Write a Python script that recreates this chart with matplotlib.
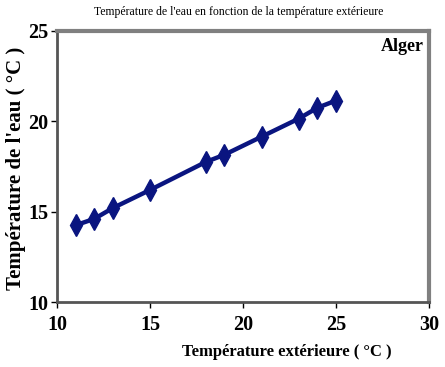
import matplotlib
matplotlib.use("Agg")
import matplotlib.pyplot as plt

x_ext = [11, 12, 13, 15, 18, 19, 21, 23, 24, 25]
y_eau = [14.25, 14.6, 15.2, 16.2, 17.75, 18.15, 19.15, 20.15, 20.75, 21.15]
x_ticks = [10, 15, 20, 25, 30]
y_ticks = [10, 15, 20, 25]

plt.rcParams['font.family'] = ['Liberation Serif', 'DejaVu Serif']

fig = plt.figure(figsize=(4.45, 3.67), dpi=100)
ax = fig.add_axes([57/445, 1 - 302/367, (429-57)/445, (302-31)/367])

ax.plot(x_ext, y_eau, color='#0a1580', lw=3.2, marker='d', markersize=11,
        markeredgecolor='#0a1580', markerfacecolor='#0a1580')

ax.set_xlim(10, 30)
ax.set_ylim(10, 25)
ax.set_xticks(x_ticks)
ax.set_yticks(y_ticks)
ax.tick_params(direction='out', length=4, width=1, labelsize=14.5)
ax.tick_params(axis='x', pad=5)
ax.tick_params(axis='y', pad=2)
for lab in ax.get_xticklabels() + ax.get_yticklabels():
    lab.set_fontweight('bold')

for s in ['top', 'right']:
    ax.spines[s].set_color('#808080')
    ax.spines[s].set_linewidth(3)
for s in ['left', 'bottom']:
    ax.spines[s].set_color('#555555')
    ax.spines[s].set_linewidth(2)

fig.text(287/445, 1 - 352/367, "Température extérieure ( °C )", ha='center', va='center',
         fontsize=12, fontweight='bold')
fig.text(16/445, 1 - 168/367, "Température de l'eau ( °C )", ha='center', va='center',
         rotation=90, fontsize=15, fontweight='bold')
fig.text(239/445, 1 - 12/367, "Température de l'eau en fonction de la température extérieure",
         ha='center', va='center', fontsize=8.5)
ax.text(0.985, 0.975, "Alger", transform=ax.transAxes, ha='right', va='top',
        fontsize=13, fontweight='bold')

fig.savefig("out.png", dpi=100)
